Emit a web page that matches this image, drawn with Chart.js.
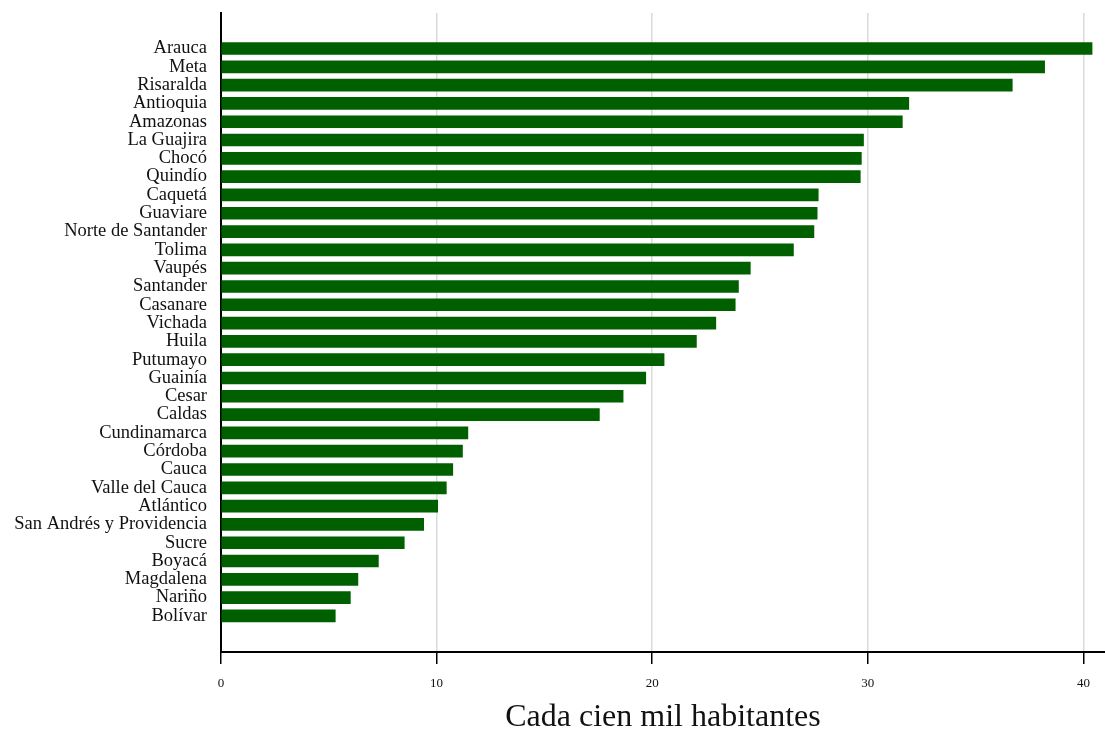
<!DOCTYPE html>
<html>
<head>
<meta charset="utf-8">
<script src="https://cdn.jsdelivr.net/npm/chart.js@4"></script>
<style>
  body { margin: 0; background: #fff; }
  #wrap { width: 1105px; height: 732px; }
</style>
</head>
<body>
<div id="wrap"><canvas id="myChart"></canvas></div>
<script>
const departamentos = ['Arauca', 'Meta', 'Risaralda', 'Antioquia', 'Amazonas', 'La Guajira', 'Chocó', 'Quindío',
  'Caquetá', 'Guaviare', 'Norte de Santander', 'Tolima', 'Vaupés', 'Santander', 'Casanare', 'Vichada',
  'Huila', 'Putumayo', 'Guainía', 'Cesar', 'Caldas', 'Cundinamarca', 'Córdoba', 'Cauca', 'Valle del Cauca',
  'Atlántico', 'San Andrés y Providencia', 'Sucre', 'Boyacá', 'Magdalena', 'Nariño', 'Bolívar'];
const tasas = [40.4, 38.2, 36.7, 31.9, 31.6, 29.8, 29.7, 29.65, 27.7, 27.65, 27.5, 26.55, 24.55, 24.0, 23.85, 22.95,
  22.05, 20.55, 19.7, 18.65, 17.55, 11.45, 11.2, 10.75, 10.45, 10.05, 9.4, 8.5, 7.3, 6.35, 6.0, 5.3];
const xTicks = [0, 10, 20, 30, 40];

const ctx = document.getElementById('myChart');
const serif = 'Liberation Serif, Times New Roman, serif';

new Chart(ctx, {
  type: 'bar',
  data: {
    datasets: [{
      data: tasas.map((v, i) => ({ x: v, y: i })),
      backgroundColor: '#006000',
      borderWidth: 0,
      barThickness: 12
    }]
  },
  options: {
    indexAxis: 'y',
    responsive: true,
    maintainAspectRatio: false,
    animation: false,
    layout: { padding: { top: 13, right: 0, left: 0, bottom: 0 } },
    plugins: { legend: { display: false }, tooltip: { enabled: false } },
    scales: {
      y: {
        type: 'linear',
        reverse: true,
        offset: false,
        bounds: 'data',
        min: -1.94,
        max: 32.97,
        afterBuildTicks: s => { s.ticks = departamentos.map((_, i) => ({ value: i })); },
        afterFit: s => { s.width = 221; s.paddingTop = 0; s.paddingBottom = 0; },
        grid: { display: false, drawTicks: false, offset: false },
        border: { color: '#000', width: 2 },
        ticks: {
          autoSkip: false,
          padding: 14,
          color: '#111',
          font: { family: serif, size: 18.5 },
          callback: v => departamentos[v] ?? ''
        }
      },
      x: {
        type: 'linear',
        min: 0,
        max: 41,
        afterBuildTicks: s => { s.ticks = xTicks.map(v => ({ value: v })); },
        afterFit: s => { s.height = 80; s.paddingRight = 0; },
        grid: { color: '#dadada', lineWidth: 1.5, tickColor: '#000', tickLength: 12 },
        border: { color: '#000', width: 2 },
        ticks: {
          padding: 12,
          color: '#111',
          font: { family: serif, size: 13 }
        },
        title: {
          display: true,
          text: 'Cada cien mil habitantes',
          color: '#111',
          font: { family: serif, size: 32, lineHeight: 1 },
          padding: { top: 0, bottom: -2 }
        }
      }
    }
  }
});
</script>
</body>
</html>
